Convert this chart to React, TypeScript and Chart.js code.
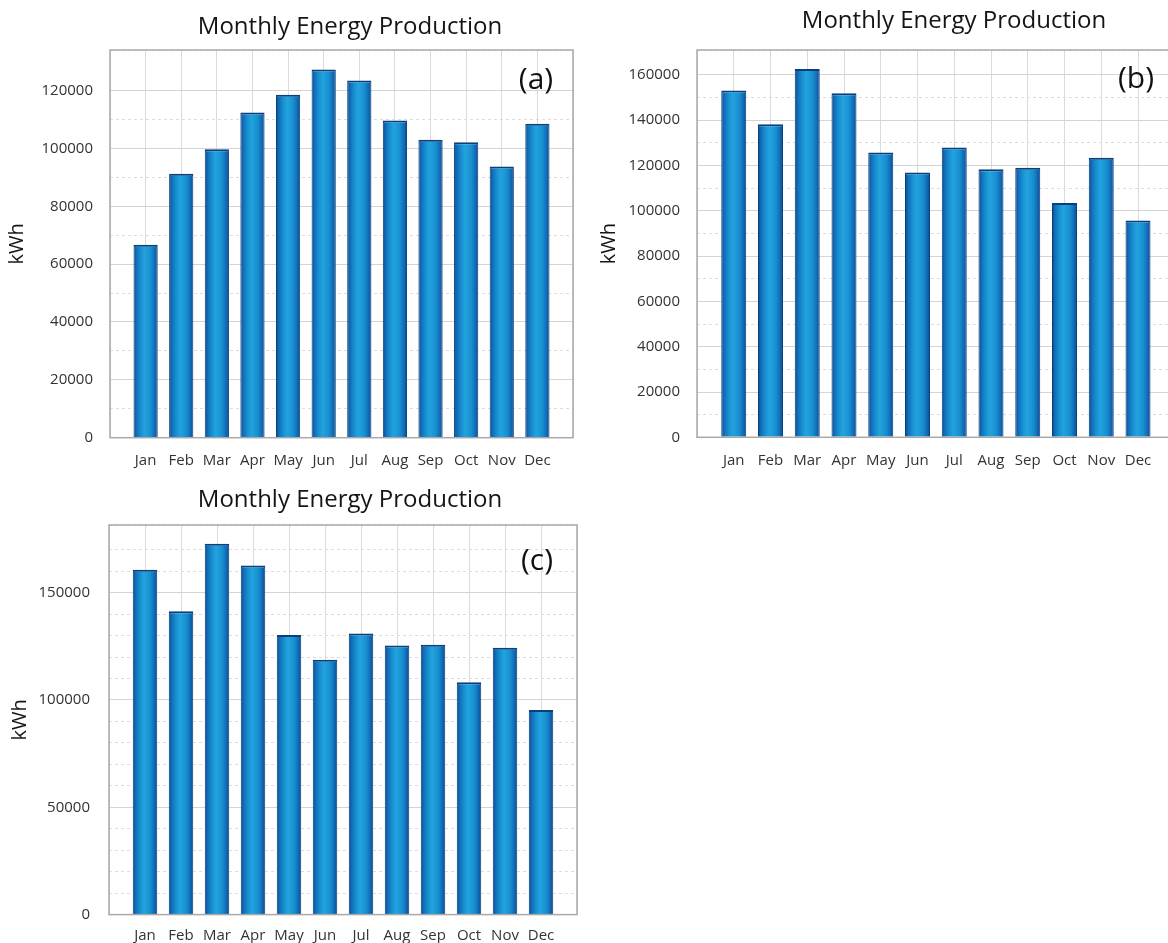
import React, { useEffect, useRef } from "react";
import { Chart, registerables } from "chart.js";

Chart.register(...registerables);

// ---------- data ----------
const months = ["Jan", "Feb", "Mar", "Apr", "May", "Jun", "Jul", "Aug", "Sep", "Oct", "Nov", "Dec"];
const chartTitle = "Monthly Energy Production";
const yAxisTitle = "kWh";

const productionA = [66700, 91200, 99700, 112400, 118500, 127300, 123500, 109600, 103000, 102100, 93700, 108500];
const productionB = [153100, 138200, 162600, 151900, 125700, 116900, 127900, 118400, 119000, 103400, 123400, 95700];
const productionC = [160700, 141300, 172800, 162600, 130200, 118700, 130900, 125400, 125700, 108300, 124300, 95300];

const panelLabels = ["(a)", "(b)", "(c)"];
const yMaxValues = [134000, 171000, 181500];
const yMajorSteps = [20000, 20000, 50000];
const yMinorSteps = [10000, 10000, 10000];
const xMaxValues = [13, 14, 13];

// ---------- layout / style ----------
type Panel = {
  values: number[];
  label: string;
  yMax: number;
  major: number;
  minor: number;
  xMax: number;
  left: number;
  top: number;
  width: number;
  height: number;
  yWidth: number;
  rightSpace: number;
  xHeight: number;
  titleTop: number;
  titleBottom: number;
  yTitlePad: number;
  yTickPad: number;
  xTickPad: number;
  labelDx: number;
  labelDy: number;
};

const panels: Panel[] = [
  {
    values: productionA, label: panelLabels[0], yMax: yMaxValues[0], major: yMajorSteps[0], minor: yMinorSteps[0], xMax: xMaxValues[0],
    left: 0, top: 0, width: 700, height: 470, yWidth: 110, rightSpace: 127, xHeight: 32.3,
    titleTop: 12.6, titleBottom: 8.6, yTitlePad: 5, yTickPad: 17, xTickPad: 14, labelDx: 426, labelDy: 30,
  },
  {
    values: productionB, label: panelLabels[1], yMax: yMaxValues[1], major: yMajorSteps[1], minor: yMinorSteps[1], xMax: xMaxValues[1],
    left: 580, top: 0, width: 748, height: 470, yWidth: 117, rightSpace: 116.5, xHeight: 32.7,
    titleTop: 6.6, titleBottom: 14.6, yTitlePad: 17, yTickPad: 17, xTickPad: 14, labelDx: 439, labelDy: 29,
  },
  {
    values: productionC, label: panelLabels[2], yMax: yMaxValues[2], major: yMajorSteps[2], minor: yMinorSteps[2], xMax: xMaxValues[2],
    left: 0, top: 470, width: 700, height: 473, yWidth: 109, rightSpace: 123, xHeight: 28.4,
    titleTop: 15.6, titleBottom: 10.6, yTitlePad: 8, yTickPad: 19, xTickPad: 12, labelDx: 428, labelDy: 36,
  },
];

const FONT = "'Open Sans', 'DejaVu Sans', sans-serif";
Chart.defaults.font.family = FONT;

const frameAndLabelPlugin = {
  id: "frameAndLabel",
  afterDatasetsDraw(chart: any, _args: any, opts: any) {
    const { ctx, chartArea } = chart;
    if (!chartArea) return;
    ctx.save();
    ctx.strokeStyle = "#a9a9a9";
    ctx.lineWidth = 1.5;
    ctx.strokeRect(chartArea.left, chartArea.top, chartArea.right - chartArea.left, chartArea.bottom - chartArea.top);
    if (opts && opts.text) {
      ctx.fillStyle = "#111111";
      ctx.font = `30px ${FONT}`;
      ctx.textAlign = "center";
      ctx.textBaseline = "middle";
      ctx.fillText(opts.text, chartArea.left + opts.dx, chartArea.top + opts.dy);
    }
    ctx.restore();
  },
};

function barFill(c: any) {
  const chart = c.chart;
  const xs = chart.scales && chart.scales.x;
  if (!xs || !chart.chartArea || !c.raw) return "#1a8fd2";
  const cx = xs.getPixelForValue(c.raw.x);
  const spacing = xs.getPixelForValue(1) - xs.getPixelForValue(0);
  const half = (spacing * 0.8 * 0.85) / 2;
  const g = chart.ctx.createLinearGradient(cx - half, 0, cx + half, 0);
  g.addColorStop(0, "#0a468c");
  g.addColorStop(0.12, "#116eb8");
  g.addColorStop(0.3, "#1890d2");
  g.addColorStop(0.45, "#22a2dc");
  g.addColorStop(0.55, "#1f9dd8");
  g.addColorStop(0.72, "#178ed0");
  g.addColorStop(0.88, "#116cb6");
  g.addColorStop(1, "#0a468c");
  return g;
}

function PanelChart({ p }: { p: Panel }) {
  const ref = useRef<HTMLCanvasElement | null>(null);
  useEffect(() => {
    if (!ref.current) return;
    const data = months.map((m, i) => ({ x: i + 1, y: p.values[i] }));
    const chart = new Chart(ref.current, {
      type: "bar",
      data: {
        datasets: [
          {
            data,
            backgroundColor: barFill,
            borderColor: "#0a3f7e",
            borderWidth: { top: 2, left: 1, right: 1, bottom: 0 },
            borderSkipped: false,
            categoryPercentage: 0.8,
            barPercentage: 0.85,
          },
        ],
      },
      options: {
        responsive: false,
        animation: false,
        layout: { padding: 0 },
        plugins: {
          legend: { display: false },
          tooltip: { enabled: false },
          title: {
            display: true,
            text: chartTitle,
            color: "#151515",
            font: { family: FONT, size: 24, weight: "normal" },
            padding: { top: p.titleTop, bottom: p.titleBottom },
          },
          frameAndLabel: { text: p.label, dx: p.labelDx, dy: p.labelDy },
        } as any,
        scales: {
          x: {
            type: "linear",
            min: 0,
            max: p.xMax,
            offset: false,
            afterFit: (s: any) => {
              s.height = p.xHeight;
            },
            grid: { color: "#dadada", lineWidth: 1, drawTicks: false, offset: false },
            border: { display: false },
            ticks: {
              stepSize: 1,
              autoSkip: false,
              maxRotation: 0,
              minRotation: 0,
              padding: p.xTickPad,
              color: "#333333",
              font: { family: FONT, size: 15 },
              callback: (v: any) => months[Number(v) - 1] ?? "",
            },
          },
          yMinor: {
            type: "linear",
            position: "left",
            beginAtZero: true,
            bounds: "data",
            max: p.yMax,
            grid: {
              color: (c: any) =>
                c.tick && c.tick.value % p.major === 0 ? "rgba(0,0,0,0)" : "#e4dada",
              lineWidth: 1,
              drawTicks: false,
            },
            border: { display: false, dash: [3, 3] },
            ticks: { display: false, stepSize: p.minor, includeBounds: false },
          },
          yRightSpace: {
            type: "linear",
            position: "right",
            beginAtZero: true,
            bounds: "data",
            max: p.yMax,
            afterFit: (s: any) => {
              s.width = p.rightSpace;
            },
            grid: { display: false, drawTicks: false },
            border: { display: false },
            ticks: { display: false },
          },
          y: {
            type: "linear",
            position: "left",
            beginAtZero: true,
            bounds: "data",
            max: p.yMax,
            afterFit: (s: any) => {
              s.width = p.yWidth;
            },
            grid: {
              color: (c: any) =>
                c.tick && c.tick.value % p.major === 0 ? "#d4d4d4" : "rgba(0,0,0,0)",
              lineWidth: 1,
              drawTicks: false,
            },
            border: { display: false },
            title: {
              display: true,
              text: yAxisTitle,
              color: "#151515",
              font: { family: FONT, size: 20 },
              padding: { top: p.yTitlePad, bottom: 0 },
            },
            ticks: {
              stepSize: p.major,
              includeBounds: false,
              padding: p.yTickPad,
              color: "#333333",
              font: { family: FONT, size: 15 },
              callback: (v: any) => (Number(v) % p.major === 0 ? String(v) : ""),
            },
          },
        } as any,
      },
      plugins: [frameAndLabelPlugin],
    });
    return () => chart.destroy();
  }, [p]);
  return (
    <canvas
      ref={ref}
      width={p.width}
      height={p.height}
      style={{ position: "absolute", left: p.left, top: p.top, width: p.width, height: p.height }}
    />
  );
}

export default function App() {
  return (
    <div
      style={{
        position: "absolute",
        left: 0,
        top: 0,
        width: 1168,
        height: 943,
        overflow: "hidden",
        background: "#ffffff",
      }}
    >
      {panels.map((p, i) => (
        <PanelChart key={i} p={p} />
      ))}
    </div>
  );
}
